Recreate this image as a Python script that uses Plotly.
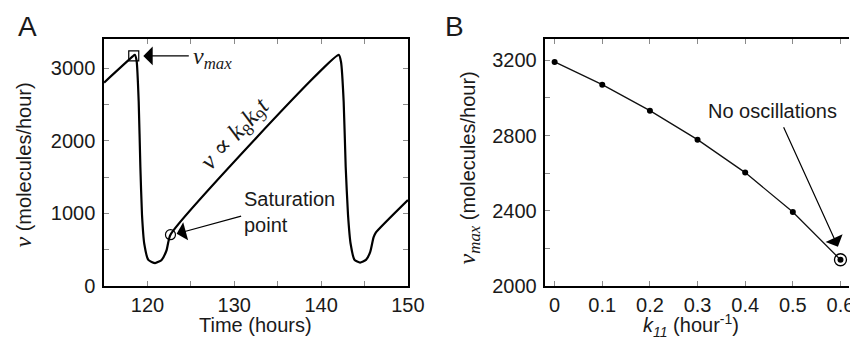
import plotly.graph_objects as go

# ---------------- data ----------------
# Panel A: production rate v over time
time_h = [115.0, 118.3, 118.54, 118.75, 118.99, 119.18, 119.37, 119.63, 120.1, 120.88,
          121.63, 122.2, 122.65, 142.04, 142.3, 142.6, 142.83, 143.1, 143.4, 143.85,
          144.49, 145.17, 145.66, 146.04, 146.3, 150.0]
rate_v = [2800, 3160, 3182, 3100, 2537, 1649, 982, 582, 360, 316,
          360, 493, 707, 3182, 3080, 2537, 1649, 982, 582, 360,
          324, 360, 471, 671, 737, 1185]
vmax_pt_t = [118.42]
vmax_pt_v = [3167]
sat_pt_t = [122.65]
sat_pt_v = [707]

# Panel B: v_max vs k11
k11 = [0, 0.1, 0.2, 0.3, 0.4, 0.5, 0.6]
vmax = [3191, 3070, 2932, 2778, 2603, 2394, 2140]
no_osc_k = [0.6]
no_osc_v = [2140]

# tick labels
a_xtickvals = [115, 120, 125, 130, 135, 140, 145, 150]
a_xticktext = ["", "120", "", "130", "", "140", "", "150"]
a_ytickvals = [0, 500, 1000, 1500, 2000, 2500, 3000]
a_yticktext = ["0", "", "1000", "", "2000", "", "3000"]
b_xtickvals = [0, 0.1, 0.2, 0.3, 0.4, 0.5, 0.6]
b_xticktext = ["0", "0.1", "0.2", "0.3", "0.4", "0.5", "0.6"]
b_ytickvals = [2000, 2200, 2400, 2600, 2800, 3000, 3200]
b_yticktext = ["2000", "", "2400", "", "2800", "", "3200"]

W, H = 858, 343
SANS = "Liberation Sans, Arial, Helvetica, sans-serif"
SERIF = "Liberation Serif, DejaVu Serif, serif"
TXT = "#1a1a1a"
TICKC = "#8a8a8a"
FS = 20

fig = go.Figure()

fig.add_trace(go.Scatter(x=time_h, y=rate_v, mode="lines",
                         line=dict(color="black", width=2.2, shape="spline", smoothing=0.5),
                         xaxis="x", yaxis="y", hoverinfo="skip"))
fig.add_trace(go.Scatter(x=vmax_pt_t, y=vmax_pt_v, mode="markers",
                         marker=dict(symbol="square-open", size=10, color="black", line=dict(width=1.2)),
                         xaxis="x", yaxis="y"))
fig.add_trace(go.Scatter(x=sat_pt_t, y=sat_pt_v, mode="markers",
                         marker=dict(symbol="circle-open", size=10, color="black", line=dict(width=1.2)),
                         xaxis="x", yaxis="y"))

fig.add_trace(go.Scatter(x=k11, y=vmax, mode="lines+markers",
                         line=dict(color="#111", width=1.3),
                         marker=dict(size=6, color="black"),
                         xaxis="x2", yaxis="y2"))
fig.add_trace(go.Scatter(x=no_osc_k, y=no_osc_v, mode="markers",
                         marker=dict(symbol="circle-open", size=12, color="black", line=dict(width=1.3)),
                         xaxis="x2", yaxis="y2"))

ydom = [(H - 287.3) / H, (H - 32) / H]

axis_common = dict(showgrid=False, zeroline=False, showline=True, linecolor="black", linewidth=1.5,
                   ticks="inside", ticklen=5, tickwidth=1, tickcolor=TICKC,
                   tickfont=dict(family=SANS, size=FS, color=TXT), tickmode="array")

fig.update_layout(
    width=W, height=H, margin=dict(l=0, r=0, t=0, b=0),
    paper_bgcolor="white", plot_bgcolor="white", showlegend=False,
    xaxis=dict(domain=[98 / W, 408 / W], range=[115, 150], anchor="y", mirror="ticks",
               tickvals=a_xtickvals, ticktext=a_xticktext, **axis_common),
    yaxis=dict(domain=ydom, range=[0, 3400], anchor="x", mirror="ticks", ticklabelstandoff=3,
               tickvals=a_ytickvals, ticktext=a_yticktext, **axis_common),
    xaxis2=dict(domain=[548.3 / W, 1.0], range=[-0.0193, 0.6179], anchor="y2", mirror="ticks",
                tickvals=b_xtickvals, ticktext=b_xticktext, **axis_common),
    yaxis2=dict(domain=ydom, range=[2000, 3313], anchor="x2", mirror=False, ticklabelstandoff=3,
                tickvals=b_ytickvals, ticktext=b_yticktext, **axis_common),
    yaxis3=dict(overlaying="y2", anchor="x2", side="right", range=[2000, 3313],
                showgrid=False, zeroline=False, showline=False, ticks="inside", ticklen=5,
                tickwidth=1, tickcolor=TICKC, showticklabels=False,
                tickmode="array", tickvals=b_ytickvals),
)

def px_ann(x, y, text, size=FS, family=SANS, angle=0, xanchor="center", yanchor="middle", align="center"):
    fig.add_annotation(xref="paper", yref="paper", x=x / W, y=1 - y / H, text=text, showarrow=False,
                       font=dict(family=family, size=size, color=TXT), textangle=angle,
                       xanchor=xanchor, yanchor=yanchor, align=align)

# panel letters
px_ann(20, 19, "A", size=28)
px_ann(456, 19, "B", size=28)

# axis titles
px_ann(253, 328, "Time (hours)")
px_ann(15, 162, "<span style='font-family:Liberation Serif,serif;font-size:24px'><i>v</i></span> (molecules/hour)", angle=-90)
px_ann(697, 328, "<i>k</i><sub><i>11</i></sub> (hour<sup>-1</sup>)")
px_ann(470, 165, "<span style='font-family:Liberation Serif,serif;font-size:24px'><i>v</i><sub><i>max</i></sub></span> (molecules/hour)", angle=-90)

# Panel A annotations
fig.add_annotation(xref="x", yref="y", x=119.52, y=3167, ax=47, ay=0, text="", showarrow=True,
                   arrowhead=1, arrowsize=2.6, arrowwidth=1.2, arrowcolor="black")
fig.add_annotation(xref="x", yref="y", x=125.0, y=3140, text="<i>v</i><sub><i>max</i></sub>",
                   showarrow=False, xanchor="left", yanchor="middle",
                   font=dict(family=SERIF, size=24, color=TXT))
fig.add_annotation(xref="x", yref="y", x=130.2, y=2080,
                   text="<i>v</i> ∝ <i>k</i><sub>8</sub><i>k</i><sub>9</sub><i>t</i>",
                   showarrow=False, textangle=-47, font=dict(family=SERIF, size=25, color=TXT))
fig.add_annotation(xref="x", yref="y", x=123.36, y=720, ax=66, ay=-18, text="", showarrow=True,
                   arrowhead=1, arrowsize=2.6, arrowwidth=1.2, arrowcolor="black")
fig.add_annotation(xref="x", yref="y", x=130.9, y=1013, text="Saturation<br>point",
                   showarrow=False, xanchor="left", yanchor="middle", align="left",
                   font=dict(family=SANS, size=FS, color=TXT))

# Panel B annotations
fig.add_annotation(xref="x2", yref="y2", x=0.4574, y=2932, text="No oscillations", showarrow=False,
                   font=dict(family=SANS, size=FS, color=TXT))
fig.add_annotation(xref="x2", yref="y2", x=0.5947, y=2209, ax=-55, ay=-121, text="", showarrow=True,
                   arrowhead=1, arrowsize=2.6, arrowwidth=1.2, arrowcolor="black")

fig.write_html("out.html")
